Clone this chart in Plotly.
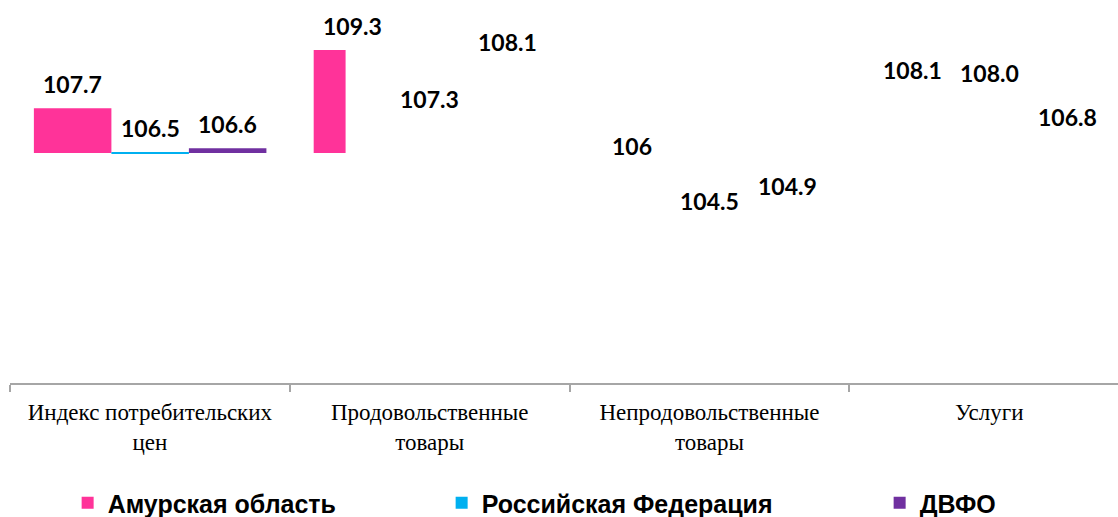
import plotly.graph_objects as go

categories = ["Индекс потребительских<br>цен", "Продовольственные<br>товары",
              "Непродовольственные<br>товары", "Услуги"]
series_names = ["Амурская область", "Российская Федерация", "ДВФО"]
amur = [107.7, 109.3, 106.0, 108.1]
rf = [106.5, 107.3, 104.5, 108.0]
dvfo = [106.6, 108.1, 104.9, 106.8]
amur_labels = ["107.7", "109.3", "106", "108.1"]
rf_labels = ["106.5", "107.3", "104.5", "108.0"]
dvfo_labels = ["106.6", "108.1", "104.9", "106.8"]
# which bars are actually painted in the original
amur_drawn = [True, True, False, False]
rf_drawn = [True, False, False, False]
dvfo_drawn = [True, False, False, False]

BASE = 106.47
colors = ["#FF3399", "#00B0F0", "#7030A0"]
BAR_W = 0.277
offsets = [-0.4146, -0.4146 + BAR_W, -0.4146 + 2 * BAR_W]
amur_widths = [BAR_W, 0.114, BAR_W, BAR_W]
legend_widths = [329, 393, 100]

values = [amur, rf, dvfo]
labels = [amur_labels, rf_labels, dvfo_labels]
drawn = [amur_drawn, rf_drawn, dvfo_drawn]
widths = [amur_widths, [BAR_W] * 4, [BAR_W] * 4]
extra_shift = {(2, 1): 28}

fig = go.Figure()
for s in range(3):
    fig.add_trace(go.Bar(
        x=categories,
        y=[v - BASE for v in values[s]],
        base=BASE,
        name=series_names[s],
        offset=offsets[s],
        width=widths[s],
        marker=dict(
            color=[colors[s] if d else "rgba(0,0,0,0)" for d in drawn[s]],
            line=dict(width=0),
        ),
        legendwidth=legend_widths[s],
        customdata=values[s],
        hovertemplate="%{x}: %{customdata}<extra>" + series_names[s] + "</extra>",
    ))

annotations = []
for s in range(3):
    for i, v in enumerate(values[s]):
        annotations.append(dict(
            x=i + offsets[s] + BAR_W / 2, y=v, xref="x", yref="y",
            text=labels[s][i], showarrow=False,
            yshift=24 + extra_shift.get((s, i), 0),
            font=dict(family="Lato", size=23, color="black", weight="bold"),
        ))

fig.update_layout(
    width=1118, height=517,
    margin=dict(l=10, r=0, t=0, b=134),
    paper_bgcolor="white", plot_bgcolor="white",
    barmode="overlay",
    showlegend=True,
    legend=dict(
        orientation="h", xref="container", yref="container",
        x=0.0605, xanchor="left", y=0.027, yanchor="middle",
        font=dict(family="Liberation Sans", size=25, color="black", weight="bold"),
        bgcolor="rgba(0,0,0,0)",
    ),
    annotations=annotations,
)
fig.update_xaxes(
    type="category", range=[-0.5, 3.46],
    showline=True, linecolor="#A6A6A6", linewidth=1.5,
    ticks="outside", tickson="boundaries", ticklen=7, tickcolor="#A6A6A6", tickwidth=1.5,
    ticklabelstandoff=8,
    tickfont=dict(family="Liberation Serif", size=23, color="black"),
    showgrid=False,
)
fig.update_yaxes(range=[100.154, 110.676], visible=False, showgrid=False, zeroline=False)

fig.write_html("out.html", config={"displayModeBar": False},
               post_script="document.body.style.margin='0';")
